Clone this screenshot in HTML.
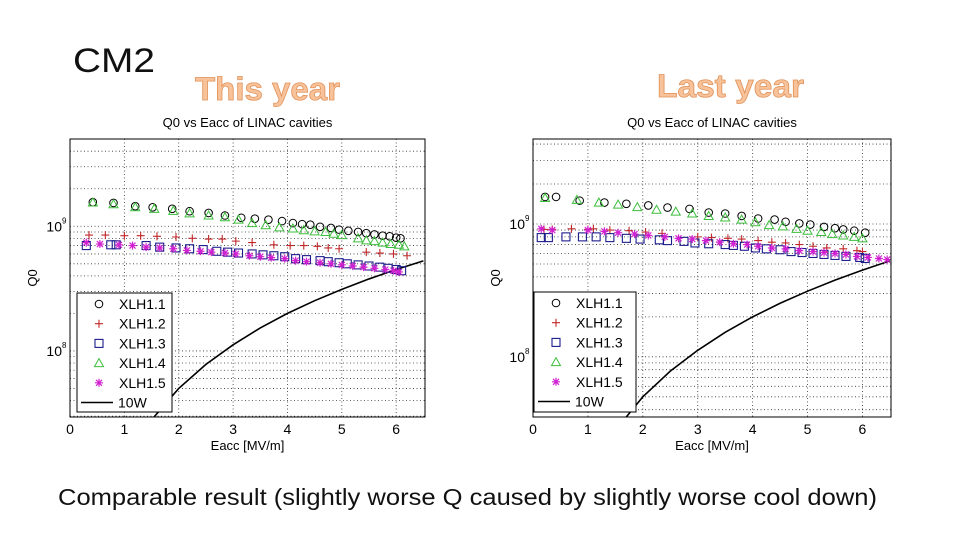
<!DOCTYPE html>
<html><head><meta charset="utf-8"><style>
body{margin:0;background:#fff;width:960px;height:540px;overflow:hidden;font-family:"Liberation Sans",sans-serif}
svg{position:absolute;left:0;top:0}
</style></head><body>
<svg id="s" width="960" height="540">
<text x="73" y="72" font-size="34" fill="#111" textLength="82" lengthAdjust="spacingAndGlyphs">CM2</text>
<text x="195" y="100" font-size="32" font-weight="bold" fill="#f8c39a" stroke="#e0925a" stroke-width="0.8" textLength="145" lengthAdjust="spacingAndGlyphs">This year</text>
<text x="657" y="97" font-size="32" font-weight="bold" fill="#f8c39a" stroke="#e0925a" stroke-width="0.8" textLength="147" lengthAdjust="spacingAndGlyphs">Last year</text>
<text x="58" y="505" font-size="23" fill="#111" textLength="819" lengthAdjust="spacingAndGlyphs">Comparable result (slightly worse Q caused by slightly worse cool down)</text>
</svg>
<script>
const seriesNames=["XLH1.1","XLH1.2","XLH1.3","XLH1.4","XLH1.5"];
const xTicks=[0,1,2,3,4,5,6];
const curveE=[1.5,2,2.5,3,3.5,4,4.5,5,5.5,6,6.5];
const curveQ=[2.8e7,5e7,7.8e7,1.12e8,1.53e8,2e8,2.53e8,3.12e8,3.78e8,4.5e8,5.28e8];
// This year
const A11E=[0.42,0.8,1.2,1.52,1.88,2.2,2.55,2.85,3.15,3.4,3.65,3.9,4.1,4.27,4.42,4.6,4.8,4.95,5.12,5.3,5.45,5.6,5.75,5.88,6.0,6.08];
const A11Q=[1.56,1.54,1.45,1.42,1.38,1.32,1.28,1.22,1.17,1.15,1.13,1.1,1.06,1.04,1.03,0.99,0.97,0.94,0.92,0.9,0.88,0.86,0.84,0.83,0.81,0.80];
const A12E=[0.35,0.65,1,1.3,1.6,1.95,2.25,2.55,2.8,3.05,3.35,3.75,4.05,4.3,4.55,4.75,4.95,5.45,5.7,5.95,6.2];
const A12Q=[0.85,0.85,0.84,0.84,0.83,0.82,0.8,0.79,0.79,0.76,0.74,0.71,0.7,0.7,0.69,0.67,0.66,0.62,0.61,0.6,0.58];
const A13E=[0.3,0.75,0.85,1.4,1.65,1.95,2.2,2.45,2.7,2.9,3.1,3.35,3.55,3.75,3.95,4.15,4.35,4.6,4.75,4.95,5.1,5.3,5.5,5.7,5.85,6.0,6.1];
const A13Q=[0.7,0.71,0.71,0.7,0.68,0.67,0.66,0.65,0.63,0.62,0.61,0.6,0.59,0.58,0.57,0.55,0.54,0.53,0.52,0.51,0.5,0.49,0.48,0.47,0.46,0.45,0.44];
const A14E=[0.42,0.8,1.2,1.55,1.9,2.2,2.55,2.85,3.1,3.35,3.6,3.85,4.1,4.3,4.5,4.7,4.85,5.0,5.3,5.45,5.6,5.75,5.9,6.05,6.15];
const A14Q=[1.55,1.5,1.42,1.38,1.33,1.27,1.22,1.18,1.13,1.06,1.02,0.98,0.96,0.93,0.91,0.9,0.87,0.85,0.8,0.77,0.76,0.74,0.72,0.71,0.69];
const A15E=[0.3,0.55,0.9,1.15,1.4,1.65,1.9,2.15,2.4,2.6,2.85,3.05,3.3,3.5,3.7,3.95,4.15,4.35,4.6,4.8,5.0,5.2,5.4,5.6,5.8,5.95,6.05];
const A15Q=[0.74,0.72,0.71,0.7,0.68,0.67,0.66,0.64,0.63,0.62,0.61,0.6,0.58,0.57,0.56,0.55,0.53,0.52,0.51,0.5,0.49,0.48,0.47,0.46,0.45,0.44,0.43];
// Last year
const B11E=[0.22,0.42,0.85,1.3,1.7,2.1,2.45,2.85,3.2,3.5,3.8,4.1,4.4,4.6,4.85,5.05,5.3,5.5,5.65,5.85,6.05];
const B11Q=[1.6,1.6,1.5,1.45,1.42,1.38,1.33,1.3,1.22,1.2,1.15,1.1,1.08,1.04,1.01,0.99,0.95,0.93,0.91,0.89,0.86];
const B12E=[0.2,0.35,0.7,1.0,1.1,1.4,1.75,2.05,2.35,3.0,3.25,3.55,3.8,4.1,4.35,4.6,4.85,5.1,5.35,5.65,5.9,6.0];
const B12Q=[0.91,0.91,0.92,0.91,0.92,0.9,0.89,0.87,0.85,0.8,0.79,0.78,0.77,0.75,0.73,0.72,0.7,0.68,0.66,0.65,0.63,0.62];
const B13E=[0.15,0.28,0.6,0.9,1.15,1.4,1.7,1.95,2.3,2.45,2.75,2.95,3.2,3.5,3.65,3.85,4.05,4.25,4.5,4.7,4.9,5.1,5.3,5.5,5.7,5.95,6.05];
const B13Q=[0.79,0.79,0.8,0.8,0.8,0.79,0.78,0.77,0.76,0.75,0.74,0.72,0.71,0.7,0.69,0.68,0.66,0.65,0.64,0.62,0.61,0.6,0.59,0.58,0.57,0.56,0.55];
const B14E=[0.22,0.8,1.2,1.55,1.9,2.25,2.6,2.9,3.2,3.5,3.8,4.05,4.3,4.55,4.8,5.0,5.25,5.45,5.65,5.85,6.0];
const B14Q=[1.57,1.52,1.45,1.4,1.34,1.28,1.24,1.2,1.15,1.12,1.08,1.03,0.98,0.96,0.92,0.89,0.87,0.84,0.82,0.8,0.78];
const B15E=[0.15,0.35,1.0,1.3,1.55,1.85,2.1,2.4,2.65,2.9,3.15,3.4,3.65,3.9,4.1,4.35,4.6,4.85,5.1,5.3,5.5,5.7,5.9,6.1,6.3,6.45];
const B15Q=[0.92,0.9,0.9,0.88,0.86,0.84,0.82,0.8,0.78,0.77,0.75,0.73,0.71,0.7,0.68,0.66,0.65,0.63,0.62,0.61,0.6,0.59,0.57,0.56,0.55,0.54];

const NS="http://www.w3.org/2000/svg";
const svg=document.getElementById('s');
function mk(tag,attrs,parent){const e=document.createElementNS(NS,tag);for(const k in attrs)e.setAttribute(k,attrs[k]);(parent||svg).appendChild(e);return e;}
const colors=["#000","#c0282a","#1c1c8c","#3cbf3c","#d020d0"];
function marker(g,type,x,y,c){
  if(type===0)mk('circle',{cx:x,cy:y,r:3.8,fill:'none',stroke:c,'stroke-width':1},g);
  else if(type===1)mk('path',{d:`M${x-4},${y}h8M${x},${y-4}v8`,stroke:c,'stroke-width':1.1,fill:'none'},g);
  else if(type===2)mk('rect',{x:x-4,y:y-4,width:8,height:8,fill:'none',stroke:c,'stroke-width':1.1},g);
  else if(type===3)mk('path',{d:`M${x},${y-4.5}L${x+4.5},${y+3.5}L${x-4.5},${y+3.5}Z`,fill:'none',stroke:c,'stroke-width':1},g);
  else mk('path',{d:`M${x-4},${y}h8M${x},${y-4}v8M${x-3},${y-3}l6,6M${x+3},${y-3}l-6,6`,stroke:c,'stroke-width':1.2,fill:'none'},g);
}
function chart(cfg){
  const {x0,x1,y0,y1,xmax,lmin,lmax,name}=cfg;
  const g=mk('g',{});
  
  
  const X=v=>x0+(x1-x0)*v/xmax;
  const Y=q=>y1-(y1-y0)*(Math.log10(q)-lmin)/(lmax-lmin);
  mk('rect',{x:x0,y:y0,width:x1-x0,height:y1-y0,fill:'#fff'},g);
  const grid=mk('g',{stroke:'#333','stroke-width':0.8,'stroke-dasharray':'1,2.5'},g);
  
  
  for(let d=7;d<=9;d++)for(let m=1;m<=9;m++){const q=m*Math.pow(10,d);const l=Math.log10(q);if(l>lmin&&l<lmax){mk('line',{x1:x0,x2:x1,y1:Y(q),y2:Y(q)},grid);}}
  xTicks.forEach(t=>{if(t>0)mk('line',{x1:X(t),x2:X(t),y1:y0,y2:y1},grid);});
  const cl=mk('clipPath',{id:'c'+name},g);mk('rect',{x:x0,y:y0,width:x1-x0,height:y1-y0},cl);
  const pts=curveE.map((e,i)=>X(e)+','+Y(curveQ[i])).join(' ');
  const cv=mk('polyline',{points:pts,fill:'none',stroke:'#000','stroke-width':1.6,'clip-path':`url(#c${name})`},g);
  
  
  cfg.series.forEach((s,si)=>{
    const sg=mk('g',{},g);
    
    
    s[0].forEach((e,i)=>marker(sg,si,X(e),Y(s[1][i]*1e9),colors[si]));
  });
  mk('rect',{x:x0,y:y0,width:x1-x0,height:y1-y0,fill:'none',stroke:'#000','stroke-width':1},g);
  xTicks.forEach(t=>{const tx=mk('text',{x:X(t),y:y1+17,'font-size':14,'text-anchor':'middle'},g);tx.textContent=t;
    
    });
  [8,9].forEach(d=>{const ty=mk('text',{x:x0-8,y:Y(Math.pow(10,d))+5,'font-size':14,'text-anchor':'end'},g);ty.textContent='10';
    
    
    const sp=mk('text',{x:x0-8,y:Y(Math.pow(10,d))-3,'font-size':8},g);sp.textContent=d;});
  const t=mk('text',{x:(x0+x1)/2,y:y0-12,'font-size':13,'text-anchor':'middle'},g);t.textContent='Q0 vs Eacc of LINAC cavities';
  
  
  const xl=mk('text',{x:(x0+x1)/2,y:y1+33,'font-size':13,'text-anchor':'middle'},g);xl.textContent='Eacc [MV/m]';
  
  
  const yl=mk('text',{x:0,y:0,'font-size':13,'text-anchor':'middle',transform:`translate(${x0-33},${(y0+y1)/2}) rotate(-90)`},g);yl.textContent='Q0';
  
  
  const L=cfg.legend;
  const lg=mk('g',{},g);
  
  
  mk('rect',{x:L[0],y:L[1],width:L[2],height:L[3],fill:'#fff',stroke:'#000','stroke-width':1},lg);
  seriesNames.concat(['10W']).forEach((n,i)=>{const yy=L[1]+11+i*19.7;
    if(i<5)marker(lg,i,L[0]+22,yy,colors[i]);else mk('line',{x1:L[0]+4,x2:L[0]+36,y1:yy,y2:yy,stroke:'#000','stroke-width':1.6},lg);
    const tt=mk('text',{x:L[0]+(i<5?42:41),y:yy+5,'font-size':14},lg);tt.textContent=n;
    
    });
}
chart({name:'chart-this-year',x0:70,x1:425,y0:139,y1:417,xmax:6.53,lmin:7.47,lmax:9.70,legend:[77,293,95,119],
  series:[[A11E,A11Q],[A12E,A12Q],[A13E,A13Q],[A14E,A14Q],[A15E,A15Q]]});
chart({name:'chart-last-year',x0:533,x1:891,y0:139,y1:417,xmax:6.52,lmin:7.547,lmax:9.64,legend:[534,292,102,120],
  series:[[B11E,B11Q],[B12E,B12Q],[B13E,B13Q],[B14E,B14Q],[B15E,B15Q]]});
</script>
</body></html>
